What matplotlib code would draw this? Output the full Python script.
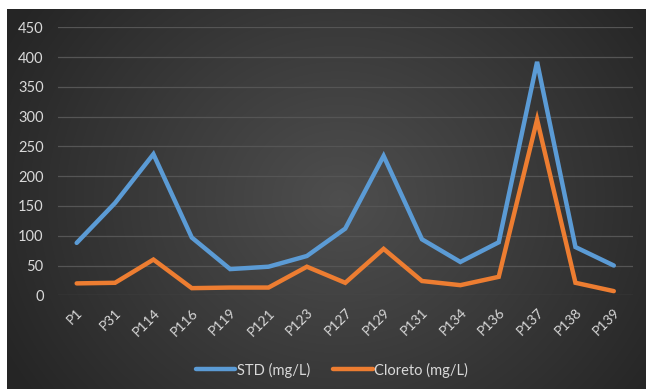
import numpy as np
import matplotlib
matplotlib.use("Agg")
import matplotlib.pyplot as plt
from matplotlib.colors import LinearSegmentedColormap

categories = ["P1", "P31", "P114", "P116", "P119", "P121", "P123", "P127",
              "P129", "P131", "P134", "P136", "P137", "P138", "P139"]
std_values = [88, 155, 237, 97, 44, 48, 66, 112, 234, 94, 56, 89, 392, 81, 50]
cloreto_values = [20, 21, 60, 12, 13, 13, 48, 21, 78, 24, 17, 31, 295, 21, 7]
y_ticks = [0, 50, 100, 150, 200, 250, 300, 350, 400, 450]

W, H = 646, 389
fig = plt.figure(figsize=(W / 100, H / 100), dpi=100)
fig.patch.set_facecolor("white")

# dark panel with a soft radial glow
bx0, by0 = 7, 0
bw, bh = W - 7, H - 9
bg = fig.add_axes([bx0 / W, by0 / H, bw / W, bh / H])
yy, xx = np.mgrid[0:bh, 0:bw]
cx, cy = bw * 0.52, bh * 0.5
r = np.sqrt(((xx - cx) / (bw * 0.6)) ** 2 + ((yy - cy) / (bh * 0.9)) ** 2)
r = np.clip(r, 0, 1)
cmap = LinearSegmentedColormap.from_list("glow", ["#4e4e4e", "#3a3a3a", "#252525"])
bg.imshow(r, cmap=cmap, aspect="auto", extent=[0, 1, 0, 1], vmin=0, vmax=1)
bg.set_axis_off()

font = "Lato"
txt = "#d9d9d9"

ax_l, ax_r = 57.5, 633
ax_top, ax_bot = 27.3, 295.3
ax = fig.add_axes([ax_l / W, 1 - ax_bot / H, (ax_r - ax_l) / W, (ax_bot - ax_top) / H])
ax.set_facecolor("none")

x = np.arange(len(categories))
ax.plot(x, std_values, color="#5b9bd5", lw=3.2, solid_capstyle="round",
        solid_joinstyle="miter", label="STD (mg/L)", zorder=3)
ax.plot(x, cloreto_values, color="#ed7d31", lw=3.2, solid_capstyle="round",
        solid_joinstyle="miter", label="Cloreto (mg/L)", zorder=3)

ax.set_xlim(-0.5, len(categories) - 0.5)
ax.set_ylim(0, 450)
ax.set_yticks(y_ticks)
ax.set_yticklabels([str(v) for v in y_ticks], fontsize=10.5, color=txt, family=font)
ax.set_xticks(x)
ax.set_xticklabels(categories, rotation=45, ha="right", rotation_mode="anchor",
                   fontsize=10, color=txt, family=font)
ax.tick_params(axis="both", length=0)
ax.tick_params(axis="y", pad=10)
ax.tick_params(axis="x", pad=8)
ax.grid(axis="y", color="#555555", lw=0.9)
ax.set_axisbelow(True)
for s in ax.spines.values():
    s.set_visible(False)

leg = fig.legend(loc="center", bbox_to_anchor=(332 / W, 1 - 370 / H), ncol=2,
                 frameon=False, handlelength=2.7, handletextpad=0.1,
                 columnspacing=1.6, prop={"family": font, "size": 10.5})
for t in leg.get_texts():
    t.set_color(txt)

fig.savefig("out.png", dpi=100, facecolor=fig.get_facecolor())
